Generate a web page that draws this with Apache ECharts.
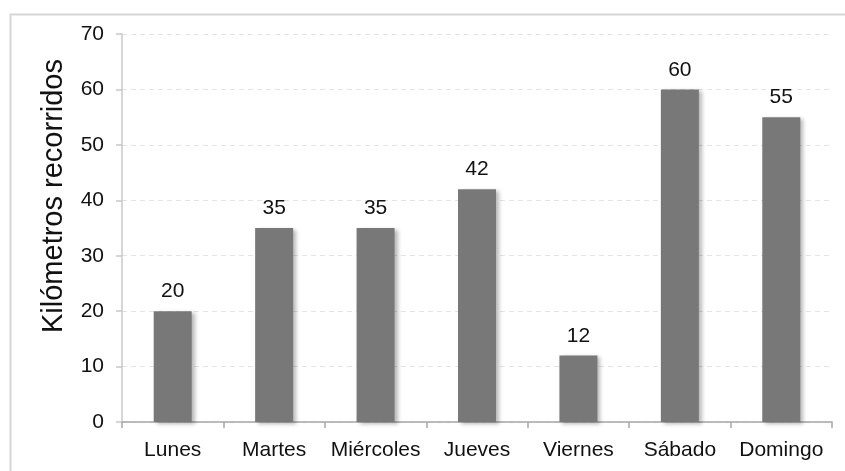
<!DOCTYPE html>
<html>
<head>
<meta charset="utf-8">
<style>
  html, body { margin: 0; padding: 0; background: #ffffff; }
  #chart { width: 845px; height: 471px; }
</style>
<script src="https://cdn.jsdelivr.net/npm/echarts@6/dist/echarts.min.js"></script>
</head>
<body>
<div id="chart"></div>
<script>
// Distance covered per day of the week
const dias = ['Lunes', 'Martes', 'Miércoles', 'Jueves', 'Viernes', 'Sábado', 'Domingo'];
const kilometros = [20, 35, 35, 42, 12, 60, 55];
const tituloEjeY = 'Kilómetros recorridos';

const fuente = '"Liberation Sans", Arial, sans-serif';
const chart = echarts.init(document.getElementById('chart'), null, { renderer: 'canvas' });

chart.setOption({
  backgroundColor: '#ffffff',
  animation: false,
  textStyle: { fontFamily: fuente },
  graphic: [{
    type: 'rect',
    left: 8, top: 12,
    shape: { width: 900, height: 600 },
    style: { fill: 'none', stroke: '#d6d6d6', lineWidth: 2 },
    silent: true
  }, {
    // vertical axis title, sitting a little above the plot's midpoint
    type: 'text',
    x: 54, y: 196,
    rotation: Math.PI / 2,
    style: {
      text: tituloEjeY,
      fill: '#111',
      font: '29px ' + fuente,
      align: 'center',
      verticalAlign: 'middle'
    },
    silent: true
  }],
  grid: { left: 122, right: 13, top: 34, bottom: 49, containLabel: false },
  xAxis: {
    type: 'category',
    data: dias,
    boundaryGap: true,
    axisLine: { lineStyle: { color: '#a6a6a6', width: 1.5 } },
    axisTick: { show: true, length: 6, alignWithLabel: false, lineStyle: { color: '#a6a6a6', width: 1.5 } },
    axisLabel: { color: '#111', fontSize: 21, fontFamily: fuente, margin: 18, interval: 0 },
    splitLine: { show: false }
  },
  yAxis: {
    type: 'value',
    min: 0, max: 70, interval: 10,
    axisLine: { show: true, lineStyle: { color: '#c8c8c8', width: 1.5 } },
    axisTick: { show: true, length: 6, lineStyle: { color: '#c8c8c8', width: 1.5 } },
    axisLabel: { color: '#111', fontSize: 21, fontFamily: fuente, margin: 18 },
    splitLine: { show: true, lineStyle: { color: '#e4e4e4', type: [5, 4], width: 1 } }
  },
  series: [{
    type: 'bar',
    data: kilometros,
    barWidth: 38,
    itemStyle: {
      color: '#787878',
      shadowColor: 'rgba(0,0,0,0.28)',
      shadowBlur: 4,
      shadowOffsetX: 3,
      shadowOffsetY: 2
    },
    label: {
      show: true,
      position: 'top',
      distance: 9,
      color: '#111',
      fontSize: 21,
      fontFamily: fuente
    }
  }]
});
</script>
</body>
</html>
